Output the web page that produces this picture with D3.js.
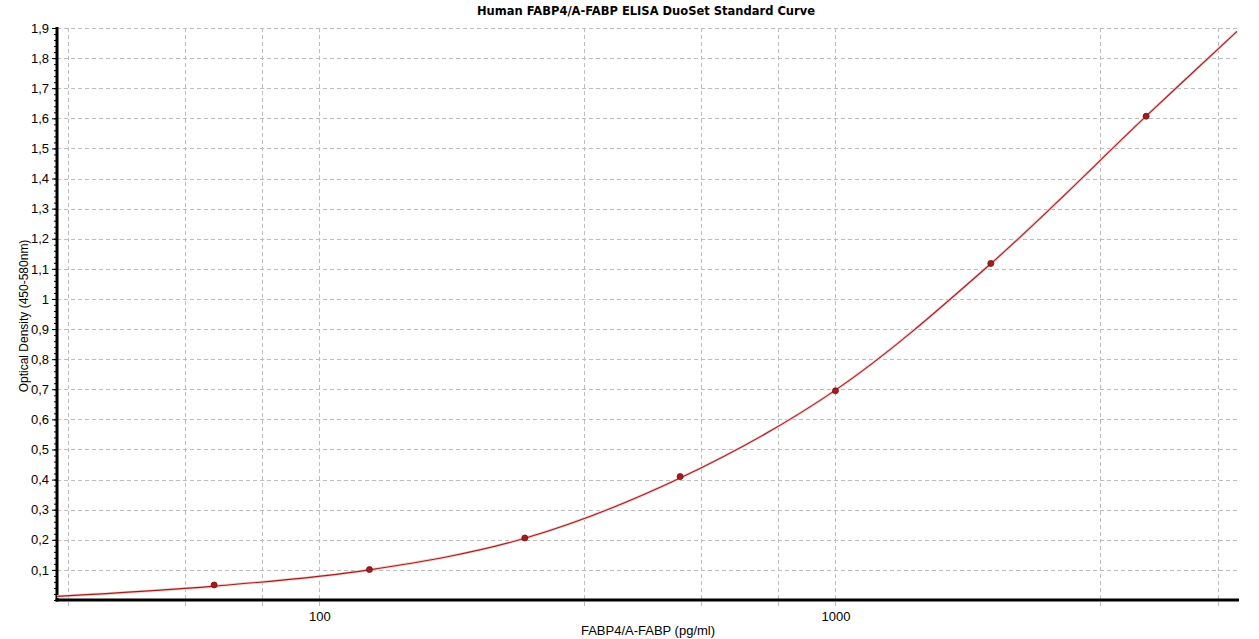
<!DOCTYPE html>
<html>
<head>
<meta charset="utf-8">
<script src="https://cdn.jsdelivr.net/npm/d3@7"></script>
<style>
  body { margin: 0; background: #fff; }
  svg { display: block; }
</style>
</head>
<body>
<div id="chart"></div>
<script>
// standards (pg/ml) and measured OD
const standards = [62.5, 125, 250, 500, 1000, 2000, 4000]
const odValues = [0.05, 0.101, 0.206, 0.41, 0.695, 1.118, 1.607]

// fitted curve
const curveConc = [31, 62.5, 125, 250, 500, 1000, 2000, 4000, 6000]
const curveOd = [0.012, 0.046, 0.100, 0.205, 0.405, 0.697, 1.117, 1.607, 1.889]

const yTicks = [0.1, 0.2, 0.3, 0.4, 0.5, 0.6, 0.7, 0.8, 0.9, 1, 1.1, 1.2, 1.3, 1.4, 1.5, 1.6, 1.7, 1.8, 1.9]
const xGrid = [32.5, 55, 77.5, 100, 325, 550, 775, 1000, 3250, 5500]
const xLabels = [100, 1000]

const title = 'Human FABP4/A-FABP ELISA DuoSet Standard Curve'
const xTitle = 'FABP4/A-FABP (pg/ml)'
const yTitle = 'Optical Density (450-580nm)'

let fullWidth = 1259
let fullHeight = 639

var margin = { top: 28, right: 22, bottom: 39, left: 57 },
    width = fullWidth - margin.left - margin.right,
    height = fullHeight - margin.top - margin.bottom;

var root = d3.select('#chart')
    .append('svg')
    .attr('width', fullWidth)
    .attr('height', fullHeight)

var svg = root.append('g')
    .attr('transform', 'translate(' + margin.left + ',' + margin.top + ')')

var x = d3.scaleLog()
    .domain([31, 6000])
    .range([0, width])

var y = d3.scaleLinear()
    .domain([0, 1.9])
    .range([height, 0])

let fmt = d => String(d).replace('.', ',')
let gridColor = '#bdbdbd'

// horizontal grid
svg.append('g')
    .selectAll('line')
    .data(yTicks)
    .enter()
    .append('line')
    .attr('x1', 0)
    .attr('x2', width + 2)
    .attr('y1', d => Math.round(y(d)) + 0.5)
    .attr('y2', d => Math.round(y(d)) + 0.5)
    .attr('stroke', gridColor)
    .attr('stroke-dasharray', '4,3')

// vertical grid (runs a bit past the axis as tick)
svg.append('g')
    .selectAll('line')
    .data(xGrid)
    .enter()
    .append('line')
    .attr('x1', d => Math.round(x(d)) + 0.5)
    .attr('x2', d => Math.round(x(d)) + 0.5)
    .attr('y1', 0)
    .attr('y2', height + 6)
    .attr('stroke', gridColor)
    .attr('stroke-dasharray', '4,3')

// y axis with minor ticks
var yAxis = d3.axisLeft(y)
    .tickValues(yTicks)
    .tickFormat(fmt)
    .tickSize(5)
    .tickPadding(3)

var yAxisG = svg.append('g')
    .attr('class', 'y-axis')
    .call(yAxis)

yAxisG.select('.domain').remove()
yAxisG.selectAll('text')
    .style('font-family', 'Liberation Sans, Arial, sans-serif')
    .style('font-size', '13px')
    .attr('fill', '#000')

svg.append('g')
    .call(d3.axisLeft(y).tickValues(d3.range(0, 95).map(i => i * 0.02)).tickSize(3).tickFormat(''))
    .select('.domain').remove()

// x axis labels
var xAxisG = svg.append('g')
    .attr('transform', 'translate(0,' + height + ')')
    .call(d3.axisBottom(x).tickValues(xLabels).tickFormat(d3.format('d')).tickSize(0).tickPadding(12))

xAxisG.select('.domain').remove()
xAxisG.selectAll('text')
    .style('font-family', 'Liberation Sans, Arial, sans-serif')
    .style('font-size', '13px')
    .attr('fill', '#000')

// axis lines
svg.append('line')
    .attr('x1', 0).attr('x2', 0)
    .attr('y1', -1).attr('y2', height + 1.5)
    .attr('stroke', '#000')
    .attr('stroke-width', 3)

svg.append('line')
    .attr('x1', -1.5).attr('x2', width + 2)
    .attr('y1', height).attr('y2', height)
    .attr('stroke', '#000')
    .attr('stroke-width', 3)

// fitted curve
let curveData = curveConc.map((c, i) => ({ conc: c, od: curveOd[i] }))
let curveLine = d3.line()
    .x(d => x(d.conc))
    .y(d => y(d.od))
    .curve(d3.curveCatmullRom.alpha(0.5))

svg.append('path')
    .datum(curveData)
    .attr('fill', 'none')
    .attr('stroke', '#f6d2d2')
    .attr('stroke-width', 3)
    .attr('d', curveLine)

svg.append('path')
    .datum(curveData)
    .attr('fill', 'none')
    .attr('stroke', '#9c2020')
    .attr('stroke-width', 1.1)
    .attr('d', curveLine)

// standards
svg.append('g')
    .selectAll('circle')
    .data(standards)
    .enter()
    .append('circle')
    .attr('cx', d => x(d))
    .attr('cy', (d, i) => y(odValues[i]))
    .attr('r', 3)
    .attr('fill', '#a51c1c')
    .attr('stroke', '#6e0c0c')
    .attr('stroke-width', 0.8)

// titles
root.append('text')
    .attr('x', 646)
    .attr('y', 15)
    .attr('text-anchor', 'middle')
    .style('font-family', 'DejaVu Sans, Verdana, sans-serif')
    .style('font-size', '11.5px')
    .style('font-weight', 'bold')
    .text(title)

root.append('text')
    .attr('x', margin.left + width / 2 + 1)
    .attr('y', 635)
    .attr('text-anchor', 'middle')
    .style('font-family', 'Liberation Sans, Arial, sans-serif')
    .style('font-size', '13px')
    .text(xTitle)

root.append('text')
    .attr('transform', 'translate(28,' + (margin.top + height / 2 + 2) + ') rotate(-90)')
    .attr('text-anchor', 'middle')
    .style('font-family', 'Liberation Sans, Arial, sans-serif')
    .style('font-size', '12px')
    .text(yTitle)
</script>
</body>
</html>
